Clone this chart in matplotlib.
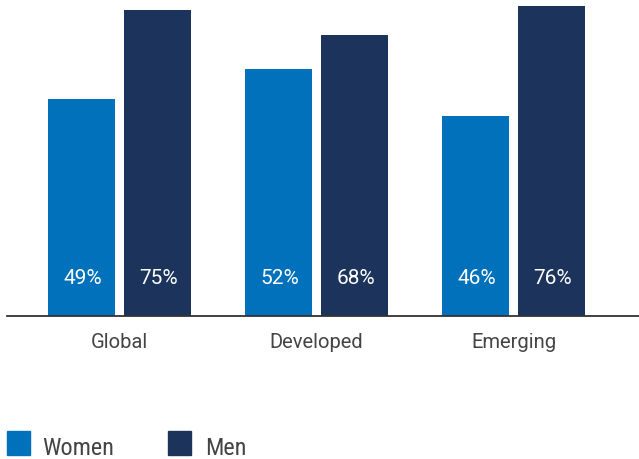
import matplotlib
matplotlib.use("Agg")
import matplotlib.pyplot as plt
from matplotlib import font_manager
from matplotlib.patches import Rectangle

categories = ["Global", "Developed", "Emerging"]
series_names = ["Women", "Men"]
women_labels = [49, 52, 46]
men_labels = [75, 68, 76]
# bar heights as drawn in the reference (not strictly proportional to labels)
women_heights = [52.9, 60.2, 48.8]
men_heights = [74.6, 68.5, 75.6]

WOMEN = "#0071BA"
MEN = "#1C345C"
TEXT = "#444444"

avail = {f.name for f in font_manager.fontManager.ttflist}
def pick(cands):
    for c in cands:
        if c in avail:
            return c
    return "DejaVu Sans"
main_font = pick(["Roboto", "Lato", "Open Sans"])
legend_font = pick(["Roboto Condensed", "Liberation Sans Narrow", "Roboto"])
plt.rcParams["font.family"] = [main_font, "DejaVu Sans"]

fig = plt.figure(figsize=(6.39, 4.59), dpi=100)
ax = fig.add_axes([7 / 639, 143 / 459, 632 / 639, 316 / 459])

x = list(range(len(categories)))
w = 0.34
off = 0.193
bw = ax.bar([i - off for i in x], women_heights, width=w, color=WOMEN, label=series_names[0])
bm = ax.bar([i + off for i in x], men_heights, width=w, color=MEN, label=series_names[1])

for bars, labs in ((bw, women_labels), (bm, men_labels)):
    for b, v in zip(bars, labs):
        ax.annotate(f"{v}%", xy=(b.get_x() + b.get_width() / 2, 0), xytext=(1, 23),
                    textcoords="offset points", ha="center", va="baseline",
                    color="white", fontsize=15)

ax.set_xlim(-0.571, 2.637)
ax.set_ylim(0, 316 / 4.1)
ax.set_xticks(x)
ax.set_xticklabels(categories, fontsize=14.5, color=TEXT)
ax.tick_params(axis="x", length=0, pad=12.5)
ax.set_yticks([])
for s in ["left", "right", "top"]:
    ax.spines[s].set_visible(False)
ax.spines["bottom"].set_color("#333333")
ax.spines["bottom"].set_linewidth(1.3)

# legend
fig.add_artist(Rectangle((7 / 639, 4 / 459), 23 / 639, 24 / 459, transform=fig.transFigure, color=WOMEN))
fig.add_artist(Rectangle((168 / 639, 4 / 459), 23 / 639, 24 / 459, transform=fig.transFigure, color=MEN))
fig.text(42 / 639, 4 / 459, series_names[0], fontsize=17.5, color=TEXT, va="baseline", ha="left",
         family=[legend_font, "DejaVu Sans"])
fig.text(205 / 639, 4 / 459, series_names[1], fontsize=17.5, color=TEXT, va="baseline", ha="left",
         family=[legend_font, "DejaVu Sans"])

fig.savefig("out.png", dpi=100)
